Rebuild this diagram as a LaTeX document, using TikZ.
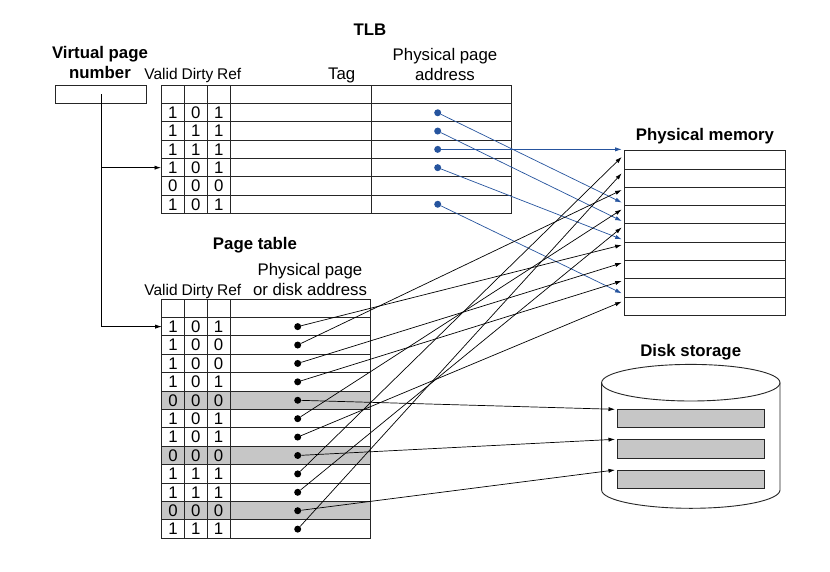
\documentclass[tikz,border=0pt]{standalone}
\usepackage{fontspec}
\setmainfont{Liberation Sans}
\usetikzlibrary{arrows.meta}
\definecolor{tlbblue}{RGB}{38,84,158}
\definecolor{rowgrey}{RGB}{198,198,198}
\begin{document}
\begin{tikzpicture}[x=1pt,y=-1pt,
  lbl/.style={font=\fontsize{16.8}{19}\selectfont,inner sep=0pt},
  colhd/.style={font=\fontsize{15.5}{18}\selectfont,inner sep=0pt,anchor=base},
  ttl/.style={font=\fontsize{16.8}{19}\selectfont\bfseries,inner sep=0pt},
  grd/.style={line width=0.9pt,draw=black!85},
  bdot/.style={circle,fill=tlbblue,inner sep=0pt,minimum size=7pt},
  kdot/.style={circle,fill=black,inner sep=0pt,minimum size=7pt},
  conn/.style={line width=0.7pt,-{Latex[length=6.5pt,width=4.2pt]}},
  bconn/.style={conn,draw=tlbblue}]
\useasboundingbox[fill=white] (0,0) rectangle (830,571);

% ---------- titles ----------
\node[ttl,anchor=base] (tlbT) at (370,35) {TLB};
\node[ttl,anchor=base] (vpn1) at (100,58.3) {Virtual page};
\node[ttl,anchor=base] (vpn2) at (100,78.3) {number};
\node[colhd] (tv) at (161,79) {Valid};
\node[colhd] (td) at (197.5,79) {Dirty};
\node[colhd] (tr) at (229.2,79) {Ref};
\node[lbl,anchor=base] (ttag) at (341.7,79) {Tag};
\node[lbl,anchor=base] (tpp1) at (445,60) {Physical page};
\node[lbl,anchor=base] (tpp2) at (445,80) {address};

\node[ttl,anchor=base] (ptT) at (255,249) {Page table};
\node[colhd] (pv) at (161,295) {Valid};
\node[colhd] (pd) at (197.5,295) {Dirty};
\node[colhd] (pr) at (229.2,295) {Ref};
\node[lbl,anchor=base] (ppp1) at (310,275) {Physical page};
\node[lbl,anchor=base] (ppp2) at (310,295) {or disk address};

\node[ttl,anchor=base] (pmT) at (705,140) {Physical memory};
\node[ttl,anchor=base] (dsT) at (690.7,356.7) {Disk storage};

% ---------- virtual page number box ----------
\draw[grd] (55,85.3) rectangle (146,103.3);
\coordinate (vs) at (101,94.3);

% ---------- TLB ----------
\draw[grd] (161,85.3) rectangle (511.7,213.4);
\foreach \i in {1,...,6} \draw[grd] (161,85.3+18.3*\i) -- (511.7,85.3+18.3*\i);
\foreach \x in {184.3,207.3,230.3,371} \draw[grd] (\x,85.3) -- (\x,213.4);
\foreach \v/\d/\r [count=\i] in {1/0/1,1/1/1,1/1/1,1/0/1,0/0/0,1/0/1}{
  \node[lbl] (tv\i) at (172.7,94.45+18.3*\i) {\v};
  \node[lbl] (td\i) at (195.8,94.45+18.3*\i) {\d};
  \node[lbl] (tr\i) at (218.8,94.45+18.3*\i) {\r};
}
\foreach \i in {1,2,3,4,6} \node[bdot] (t\i) at (437.7,94.45+18.3*\i) {};

% ---------- page table ----------
\foreach \k in {5,8,11} \fill[rowgrey] (161.7,299+18.41*\k) rectangle (370.7,299+18.41*\k+18.41);
\draw[grd] (161.7,299) rectangle (370.7,538.3);
\foreach \i in {1,...,12} \draw[grd] (161.7,299+18.41*\i) -- (370.7,299+18.41*\i);
\foreach \x in {184.3,207.3,230} \draw[grd] (\x,299) -- (\x,538.3);
\foreach \v/\d/\r [count=\i] in {1/0/1,1/0/0,1/0/0,1/0/1,0/0/0,1/0/1,1/0/1,0/0/0,1/1/1,1/1/1,0/0/0,1/1/1}{
  \node[lbl] (pv\i) at (173,308.2+18.41*\i) {\v};
  \node[lbl] (pd\i) at (195.8,308.2+18.41*\i) {\d};
  \node[lbl] (pr\i) at (218.6,308.2+18.41*\i) {\r};
  \node[kdot] (p\i) at (297.7,308.2+18.41*\i) {};
}

% ---------- physical memory ----------
\draw[grd] (624.3,150.7) rectangle (785.7,315.4);
\foreach \i in {1,...,8} \draw[grd] (624.3,150.7+18.3*\i) -- (785.7,150.7+18.3*\i);
\foreach \y [count=\i from 0] in {157,173.3,190,209.5,227.5,245,263,281,301.7}
  \coordinate (m\i) at (621.7,\y);
\coordinate (b1) at (621.7,202.5);
\coordinate (b2) at (621.7,221);
\coordinate (b3) at (621.7,149.35);
\coordinate (b4) at (621.7,239.3);
\coordinate (b6) at (621.7,293.3);

% ---------- disk ----------
\draw[grd] (601.6,382.7) -- (601.6,490) arc[start angle=180,end angle=360,x radius=89.2pt,y radius=18.3pt] -- (780,382.7);
\draw[grd] (690.8,382.7) ellipse [x radius=89.2pt,y radius=18.3pt];
\draw[grd,fill=rowgrey] (617.3,409.3) rectangle (764.3,427.3);
\draw[grd,fill=rowgrey] (617.3,439.3) rectangle (764.3,458);
\draw[grd,fill=rowgrey] (617.3,470) rectangle (764.3,488.3);
\coordinate (d1) at (615,409.3);
\coordinate (d2) at (615,439.3);
\coordinate (d3) at (615,470);

% ---------- left connectors ----------
\coordinate (tlbin) at (161,167.65);
\coordinate (ptin) at (161.7,326.6);
\draw[conn] (vs) |- (ptin);
\draw[conn] (vs |- tlbin) -- (tlbin);

% ---------- TLB to memory (blue) ----------
\draw[bconn] (t1) -- (b1);
\draw[bconn] (t2) -- (b2);
\draw[bconn] (t3) -- (b3);
\draw[bconn] (t4) -- (b4);
\draw[bconn] (t6) -- (b6);

% ---------- page table to memory / disk ----------
\draw[conn] (p1) -- (m5);
\draw[conn] (p2) -- (m2);
\draw[conn] (p3) -- (m6);
\draw[conn] (p4) -- (m7);
\draw[conn] (p6) -- (m3);
\draw[conn] (p7) -- (m8);
\draw[conn] (p9) -- (m0);
\draw[conn] (p10) -- (m4);
\draw[conn] (p12) -- (m1);
\draw[conn] (p5) -- (d1);
\draw[conn] (p8) -- (d2);
\draw[conn] (p11) -- (d3);
\end{tikzpicture}
\end{document}
